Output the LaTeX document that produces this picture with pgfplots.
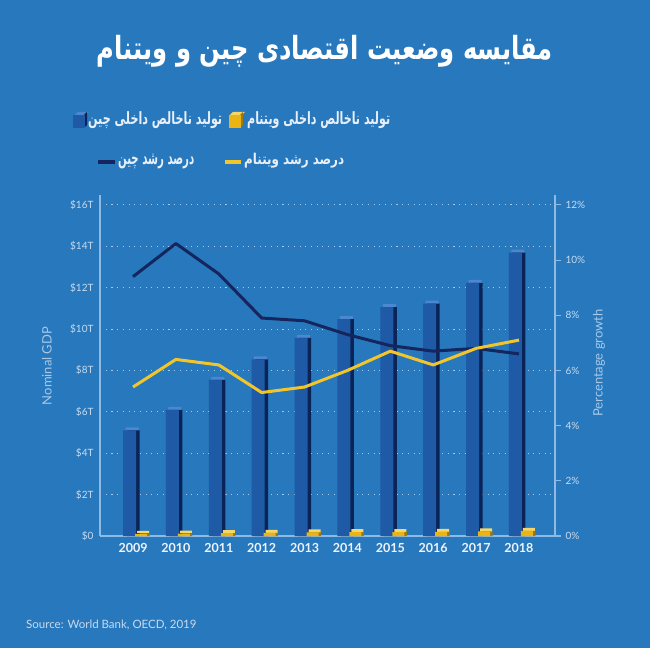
\documentclass[border=0pt]{standalone}
\usepackage{pgfplots}
\pgfplotsset{compat=1.18}
\usepackage{graphicx}
\usepackage{fontspec}
\setmainfont{Lato}
\newfontfamily\arabicfont[Script=Arabic]{DejaVu Sans}
\TeXXeTstate=1
\definecolor{bg}{HTML}{2778BD}
\definecolor{barfront}{HTML}{1F5AA6}
\definecolor{barside}{HTML}{0B2458}
\definecolor{bartop}{HTML}{4C88CF}
\definecolor{vnfront}{HTML}{E9B414}
\definecolor{vnside}{HTML}{A07A08}
\definecolor{vntop}{HTML}{F7D668}
\definecolor{chinaline}{HTML}{15265F}
\definecolor{vnline}{HTML}{F2C62B}
\definecolor{axiscol}{HTML}{8EBBE6}
\definecolor{gridcol}{HTML}{A5C9EC}
\definecolor{tickcol}{HTML}{C9DBEF}
\definecolor{yearcol}{HTML}{EEF3FA}
\definecolor{labelcol}{HTML}{A8C8E8}
\definecolor{legtext}{HTML}{E8EFF8}

\pgfplotstableread{
idx gdp
0 5.10
1 6.09
2 7.55
3 8.53
4 9.57
5 10.48
6 11.06
7 11.23
8 12.23
9 13.70
}\chinagdp
\pgfplotstableread{
idx gdp
0 0.106
1 0.116
2 0.136
3 0.156
4 0.171
5 0.186
6 0.193
7 0.205
8 0.224
9 0.245
}\vngdp

\begin{document}
\begin{tikzpicture}[x=1pt,y=1pt]
\fill[bg] (0,0) rectangle (650,648);
\begin{axis}[
  at={(100pt,112pt)}, anchor=south west, scale only axis,
  width=455pt, height=341pt,
  xmin=-0.77, xmax=9.84, ymin=0, ymax=16.48,
  axis x line*=bottom, axis y line*=left,
  axis line style={axiscol, line width=1.1pt},
  xtick={0,1,2,3,4,5,6,7,8,9},
  xticklabels={2009,2010,2011,2012,2013,2014,2015,2016,2017,2018},
  x tick label style={font=\fontsize{12.5}{14}\selectfont\bfseries, color=yearcol, yshift=-4pt},
  ytick={0,2,4,6,8,10,12,14,16},
  yticklabels={\$0,\$2T,\$4T,\$6T,\$8T,\$10T,\$12T,\$14T,\$16T},
  y tick label style={font=\fontsize{10}{11}\selectfont, color=tickcol, xshift=-3pt},
  major tick length=0pt,
  ymajorgrids, grid style={gridcol, line width=1.1pt, dash pattern=on 1.1pt off 4.6pt},
]
% China GDP bars (3D look: top, side, front)
\addplot[ybar, bar width=13pt, bar shift=-1pt, fill=bartop, draw=none, yshift=3pt] table[x=idx,y=gdp]{\chinagdp};
\addplot[ybar, bar width=13pt, bar shift=0pt, fill=barside, draw=none] table[x=idx,y=gdp]{\chinagdp};
\addplot[ybar, bar width=13pt, bar shift=-3.5pt, fill=barfront, draw=none] table[x=idx,y=gdp]{\chinagdp};
% Vietnam GDP cubes
\addplot[ybar, bar width=12pt, bar shift=10pt, fill=vntop, draw=none, yshift=3pt] table[x=idx,y=gdp]{\vngdp};
\addplot[ybar, bar width=12pt, bar shift=10.5pt, fill=vnside, draw=none] table[x=idx,y=gdp]{\vngdp};
\addplot[ybar, bar width=12pt, bar shift=8pt, fill=vnfront, draw=none] table[x=idx,y=gdp]{\vngdp};
\end{axis}
\begin{axis}[
  at={(100pt,112pt)}, anchor=south west, scale only axis,
  width=455pt, height=341pt,
  xmin=-0.77, xmax=9.84, ymin=0, ymax=12.36,
  axis y line*=right, axis x line=none,
  axis line style={axiscol, line width=1.1pt},
  ytick={0,2,4,6,8,10,12},
  yticklabels={0\%,2\%,4\%,6\%,8\%,10\%,12\%},
  tick align=outside, major tick length=6pt,
  ytick style={axiscol, line width=1.1pt},
  y tick label style={font=\fontsize{10}{11}\selectfont, color=tickcol, xshift=1pt},
]
\addplot[chinaline, line width=3pt, line join=round] coordinates {
(0,9.4) (1,10.6) (2,9.5) (3,7.9) (4,7.8) (5,7.3) (6,6.9) (7,6.7) (8,6.8) (9,6.6)};
\addplot[vnline, line width=3pt, line join=round] coordinates {
(0,5.4) (1,6.4) (2,6.2) (3,5.2) (4,5.4) (5,6.0) (6,6.7) (7,6.2) (8,6.8) (9,7.1)};
\end{axis}
% axis titles
\node[rotate=90, text=labelcol, font=\fontsize{13}{15}\selectfont] at (47,282) {Nominal GDP};
\node[rotate=90, text=labelcol, font=\fontsize{13}{15}\selectfont] at (599,285) {Percentage growth};
% title
\node[text=white, inner sep=0pt] at (325,597) {\resizebox*{456pt}{32pt}{\arabicfont\bfseries\beginR مقایسه وضعیت اقتصادی چین و ویتنام\endR}};
% legend row 1
\fill[bartop] (75,533) -- (78,536) -- (89,536) -- (86,533) -- cycle;
\fill[barside] (84,520) -- (87,523) -- (87,536) -- (84,533) -- cycle;
\fill[barfront] (73,520) rectangle (85,533);
\node[anchor=west, inner sep=0pt, text=legtext] at (88,528) {\resizebox*{134pt}{17pt}{\arabicfont\bfseries\beginR تولید ناخالص داخلی چین\endR}};
\fill[vntop] (230,533) -- (233,536) -- (245,536) -- (242,533) -- cycle;
\fill[vnside] (240,520) -- (243,523) -- (243,536) -- (240,533) -- cycle;
\fill[vnfront] (229,520) rectangle (241,533);
\node[anchor=west, inner sep=0pt, text=legtext] at (247,528) {\resizebox*{143pt}{17pt}{\arabicfont\bfseries\beginR تولید ناخالص داخلی ویتنام\endR}};
% legend row 2
\draw[chinaline, line width=3.5pt] (98,486) -- (115,486);
\node[anchor=west, inner sep=0pt, text=legtext] at (118,487) {\resizebox*{76pt}{15pt}{\arabicfont\bfseries\beginR درصد رشد چین\endR}};
\draw[vnline, line width=3.5pt] (225,486) -- (241,486);
\node[anchor=west, inner sep=0pt, text=legtext] at (244,487) {\resizebox*{100pt}{15pt}{\arabicfont\bfseries\beginR درصد رشد ویتنام\endR}};
% source
\node[anchor=west, inner sep=0pt, text=tickcol, font=\fontsize{11.5}{13}\selectfont] at (26,23) {Source: World Bank, OECD, 2019};
\end{tikzpicture}
\end{document}
